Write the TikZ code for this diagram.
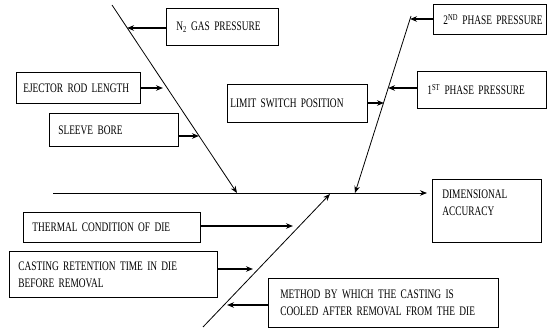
\documentclass[tikz,border=0pt]{standalone}
\usepackage{fontspec}
\setmainfont{Liberation Serif}[FakeStretch=0.72]
\usetikzlibrary{arrows.meta}
\tikzset{
  box/.style={draw, line width=0.7pt, anchor=north west, align=left, inner ysep=0pt,
    font=\fontsize{13}{17}\selectfont},
  bone/.style={line width=0.8pt},
  arr/.style={line width=1.1pt, -{Stealth[length=7pt,width=5.5pt]}},
  bonearr/.style={line width=0.8pt, -{Stealth[length=7pt,width=5.5pt]}},
}
\begin{document}
\begin{tikzpicture}[x=1pt,y=-1pt]
\useasboundingbox (0,0) rectangle (547,331);
% boxes
\node[box, minimum width=112, minimum height=37, text width=92, inner xsep=10] (n2) at (166,8) {\mbox{N\textsubscript{2} GAS PRESSURE}};
\node[box, minimum width=124, minimum height=31, text width=110, inner xsep=7] (ejector) at (16,72) {\mbox{EJECTOR ROD LENGTH}};
\node[box, minimum width=129, minimum height=33, text width=111, inner xsep=9] (sleeve) at (49,113) {SLEEVE BORE};
\node[box, minimum width=140, minimum height=38, text width=134, inner xsep=3] (limit) at (227,84) {\mbox{LIMIT SWITCH POSITION}};
\node[box, minimum width=113, minimum height=30, text width=93, inner xsep=10] (second) at (433,4) {\mbox{2\textsuperscript{ND} PHASE PRESSURE}};
\node[box, minimum width=129, minimum height=37, text width=109, inner xsep=10] (first) at (417,71) {\mbox{1\textsuperscript{ST} PHASE PRESSURE}};
\node[box, minimum width=109, minimum height=63, text width=89, inner xsep=10] (dim) at (432,179) {DIMENSIONAL\\ACCURACY\\\mbox{}};
\node[box, minimum width=177, minimum height=30, text width=159, inner xsep=9] (thermal) at (23,212) {\mbox{THERMAL CONDITION OF DIE}};
\node[box, minimum width=208, minimum height=46, text width=190, inner xsep=9] (casting) at (9,251) {\mbox{CASTING RETENTION TIME IN DIE}\\BEFORE REMOVAL};
\node[box, minimum width=230, minimum height=49, text width=206, inner xsep=12] (method) at (268,278) {\mbox{METHOD BY WHICH THE CASTING IS}\\\mbox{COOLED AFTER REMOVAL FROM THE DIE}};
% fishbone lines
\coordinate (spA) at (53,193);
\coordinate (spB) at (427,193);
\coordinate (ulA) at (112,5);
\coordinate (ulB) at (237,193);
\coordinate (urA) at (411,16);
\coordinate (urB) at (355,193);
\coordinate (loA) at (203,327);
\coordinate (loB) at (330,194);
\draw[bonearr] (spA) -- (spB);
\draw[bonearr] (ulA) -- (ulB);
\draw[bonearr] (urA) -- (urB);
\draw[bonearr] (loA) -- (loB);
% tips on bones
\coordinate (n2t) at (127,28);
\coordinate (ejt) at (163,88);
\coordinate (slt) at (199,136);
\coordinate (lit) at (384,103);
\coordinate (fit) at (388,88);
\coordinate (set) at (410,19);
\coordinate (tht) at (293,226);
\coordinate (cat) at (253,269);
\coordinate (met) at (227,305);
\draw[arr] (n2.west |- n2t) -- (n2t);
\draw[arr] (ejector.east |- ejt) -- (ejt);
\draw[arr] (sleeve.east |- slt) -- (slt);
\draw[arr] (limit.east |- lit) -- (lit);
\draw[arr] (first.west |- fit) -- (fit);
\draw[arr] (second.west |- set) -- (set);
\draw[arr] (thermal.east |- tht) -- (tht);
\draw[arr] (casting.east |- cat) -- (cat);
\draw[arr] (method.west |- met) -- (met);
\end{tikzpicture}
\end{document}
